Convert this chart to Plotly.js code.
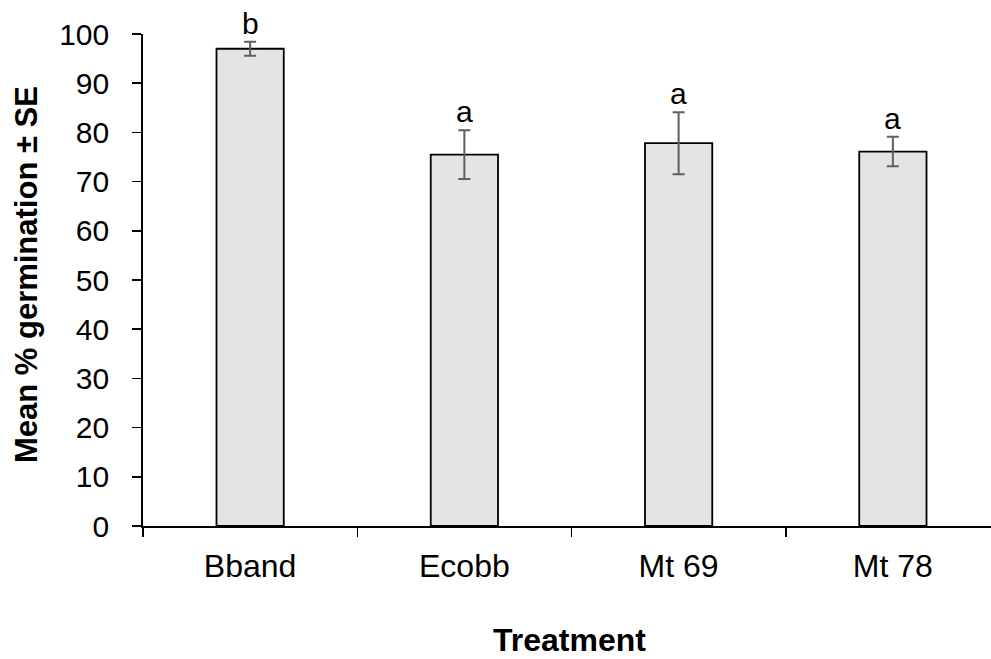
<!DOCTYPE html>
<html>
<head>
<meta charset="utf-8">
<script src="https://cdn.plot.ly/plotly-3.0.1.min.js"></script>
<style>html,body{margin:0;padding:0;background:#fff;}#chart{width:991px;height:659px;}</style>
</head>
<body>
<div id="chart"></div>
<script>
var categories = ["Bband", "Ecobb", "Mt 69", "Mt 78"];
var meanGermination = [97.0, 75.5, 77.8, 76.1];
var standardError = [1.4, 4.95, 6.3, 3.0];
var letters = ["b", "a", "a", "a"];
var yTicks = [0, 10, 20, 30, 40, 50, 60, 70, 80, 90, 100];

var FONT = "Liberation Sans, Arial, sans-serif";

var trace = {
  type: "bar",
  x: categories,
  y: meanGermination,
  width: 0.314,
  marker: {color: "#e4e4e4", line: {color: "#000000", width: 1.8}},
  error_y: {type: "data", array: standardError, visible: true, color: "#5f5f5f", thickness: 2, width: 6},
  hoverinfo: "none"
};

var annotations = categories.map(function(c, i) {
  return {
    x: c, y: meanGermination[i] + standardError[i],
    xref: "x", yref: "y",
    text: letters[i], showarrow: false,
    yanchor: "bottom", yshift: 0,
    font: {family: FONT, size: 30, color: "#000"}
  };
});

annotations.push({
  xref: "paper", yref: "paper", x: 0, y: 0.51,
  xanchor: "center", yanchor: "middle", xshift: -117,
  textangle: -90, showarrow: false,
  text: "<b>Mean % germination ± SE</b>",
  font: {family: FONT, size: 31, color: "#000"}
});

annotations.push({
  xref: "paper", yref: "paper", x: 0.5, y: 0,
  xanchor: "center", yanchor: "middle", yshift: -114, xshift: 2,
  showarrow: false,
  text: "<b>Treatment</b>",
  font: {family: FONT, size: 32, color: "#000"}
});

var layout = {
  width: 991, height: 659,
  margin: {l: 143, r: 0, t: 34, b: 133},
  paper_bgcolor: "#fff", plot_bgcolor: "#fff",
  showlegend: false,
  font: {family: FONT, color: "#000"},
  xaxis: {
    type: "category",
    range: [-0.5, 3.458],
    tickson: "boundaries",
    ticks: "outside", ticklen: 9, tickwidth: 1.5, tickcolor: "#000",
    showline: true, linecolor: "#000", linewidth: 1.8,
    showgrid: false, zeroline: false,
    tickfont: {family: FONT, size: 32, color: "#000"},
    ticklabelstandoff: 11
  },
  yaxis: {
    range: [0, 100],
    tickvals: yTicks,
    ticks: "outside", ticklen: 9, tickwidth: 1.5, tickcolor: "#000",
    showline: true, linecolor: "#000", linewidth: 1.8,
    showgrid: false, zeroline: false,
    tickfont: {family: FONT, size: 30, color: "#000"},
    ticklabelstandoff: 17
  },
  annotations: annotations
};

Plotly.newPlot("chart", [trace], layout, {displayModeBar: false, staticPlot: true});
</script>
</body>
</html>
